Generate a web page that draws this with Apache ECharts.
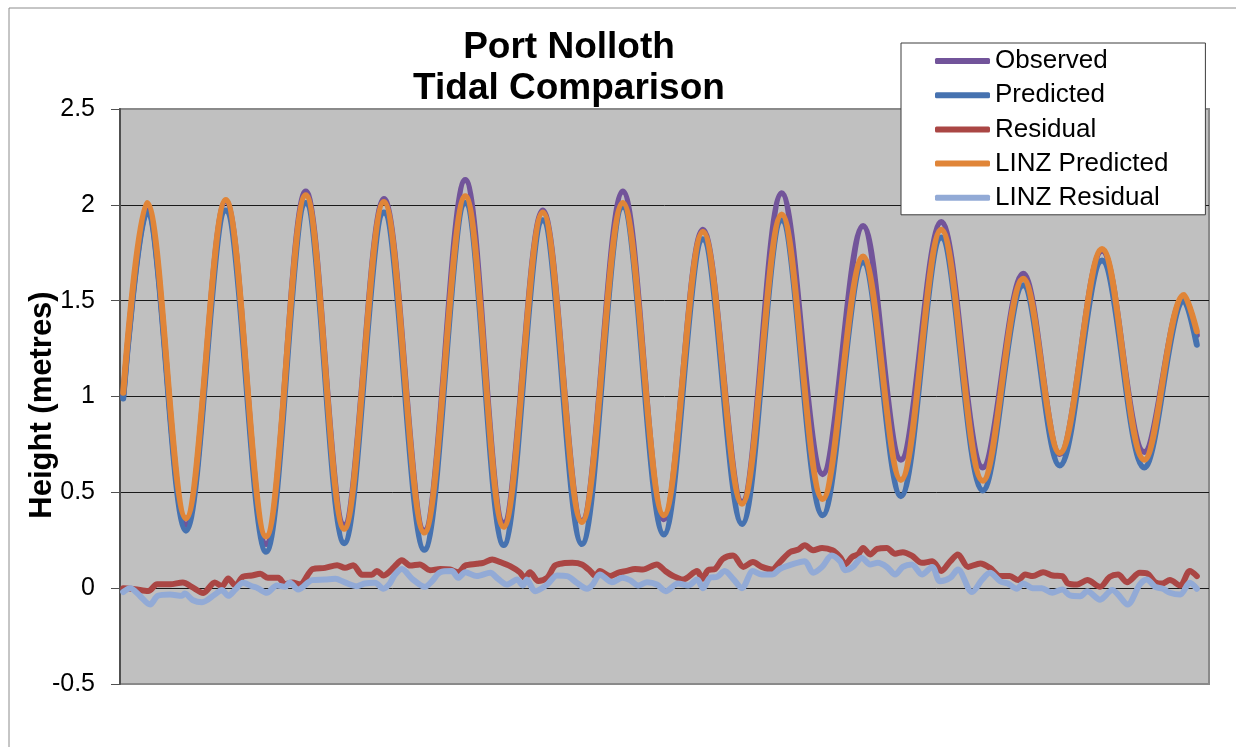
<!DOCTYPE html>
<html>
<head>
<meta charset="utf-8">
<script src="https://cdn.jsdelivr.net/npm/echarts@6/dist/echarts.min.js"></script>
<style>
html,body{margin:0;padding:0;background:#fff;}
#chart{width:1236px;height:747px;}
</style>
</head>
<body>
<div id="chart"></div>
<script>
// ---- data (time in hours from start of record, heights in metres) ----
const seriesNames = ['Observed', 'Predicted', 'Residual', 'LINZ Predicted', 'LINZ Residual'];
const yTicks = [-0.5, 0, 0.5, 1, 1.5, 2, 2.5];

// times of the start, each high / low water, and the end
const tideHours = [0.5, 4.2, 10.3, 16.5, 22.8, 29.0, 35.0, 41.2, 47.5, 53.9, 59.9, 66.0, 72.1, 78.5, 84.9,
  91.0, 97.1, 103.3, 109.7, 116.0, 121.9, 128.2, 134.7, 141.0, 146.7, 153.3, 159.9, 166.1, 168.1];
const observed = [1.00, 1.97, 0.33, 2.02, 0.23, 2.07, 0.33, 2.03, 0.30, 2.13, 0.34, 1.97, 0.35, 2.07, 0.36,
  1.87, 0.45, 2.06, 0.595, 1.89, 0.67, 1.91, 0.63, 1.64, 0.70, 1.76, 0.71, 1.52, 1.32];
const predicted = [0.99, 1.96, 0.30, 1.97, 0.19, 2.01, 0.235, 1.96, 0.20, 2.01, 0.225, 1.92, 0.23, 1.99, 0.28,
  1.82, 0.335, 1.92, 0.38, 1.70, 0.48, 1.83, 0.51, 1.58, 0.64, 1.71, 0.63, 1.50, 1.27];
const linzPredicted = [1.02, 2.01, 0.365, 2.025, 0.27, 2.05, 0.31, 2.015, 0.29, 2.045, 0.32, 1.96, 0.345, 2.01, 0.38,
  1.86, 0.44, 1.95, 0.465, 1.73, 0.565, 1.87, 0.56, 1.615, 0.705, 1.77, 0.67, 1.53, 1.34];

const residualHours = [0.5, 2.3, 4.4, 5.8, 7.8, 9.8, 11.2, 13.0, 14.8, 15.9, 16.9, 18.0, 19.2, 20.6, 21.9, 23.1, 24.7,
  25.8, 26.9, 28.1, 30.1, 32.0, 33.9, 35.1, 36.4, 37.8, 39.3, 40.1, 41.1, 42.2, 42.9, 44.0, 45.3, 46.8, 48.4, 50.0,
  51.5, 52.8, 53.9, 55.7, 56.7, 58.1, 59.3, 60.9, 62.4, 63.2, 64.0, 65.3, 66.7, 67.9, 69.2, 70.6, 72.1, 73.4, 74.2,
  74.9, 76.5, 77.7, 79.1, 80.4, 81.6, 83.8, 85.1, 86.2, 87.9, 90.1, 90.9, 91.8, 92.9, 94.1, 95.7, 97.3, 98.8, 100.2,
  101.8, 103.0, 104.6, 105.8, 106.9, 108.2, 109.6, 111.2, 112.4, 113.2, 114.3, 115.2, 116.0, 117.1, 118.2, 119.7,
  121.0, 122.2, 123.6, 125.2, 126.8, 128.2, 129.6, 130.8, 132.4, 134.3, 135.8, 137.4, 138.9, 140.2, 141.3, 142.5,
  144.1, 145.6, 147.1, 148.0, 149.4, 151.0, 153.0, 154.5, 155.8, 157.2, 159.2, 160.3, 161.6, 162.7, 163.9, 165.5,
  167.0, 168.1];
const residual = [0.00, -0.005, -0.015, 0.02, 0.02, 0.03, 0.007, -0.025, 0.03, 0.01, 0.05, 0.014, 0.06, 0.066, 0.075,
  0.054, 0.054, 0.02, 0.03, 0.02, 0.10, 0.106, 0.12, 0.106, 0.12, 0.07, 0.07, 0.09, 0.066, 0.09, 0.115, 0.146, 0.118,
  0.124, 0.094, 0.10, 0.097, 0.083, 0.118, 0.127, 0.132, 0.15, 0.137, 0.115, 0.083, 0.054, 0.083, 0.037, 0.054, 0.118,
  0.13, 0.132, 0.124, 0.09, 0.063, 0.09, 0.063, 0.08, 0.09, 0.10, 0.097, 0.124, 0.09, 0.066, 0.045, 0.089, 0.049,
  0.094, 0.10, 0.153, 0.17, 0.111, 0.136, 0.111, 0.097, 0.136, 0.188, 0.20, 0.224, 0.198, 0.21, 0.198, 0.163, 0.124,
  0.163, 0.176, 0.21, 0.176, 0.205, 0.21, 0.18, 0.188, 0.17, 0.132, 0.14, 0.09, 0.14, 0.176, 0.111, 0.129, 0.106,
  0.063, 0.063, 0.042, 0.071, 0.063, 0.083, 0.066, 0.063, 0.024, 0.019, 0.042, 0.007, 0.059, 0.071, 0.031, 0.08,
  0.077, 0.031, 0.024, 0.042, 0.014, 0.089, 0.063];

const linzResidualHours = [0.5, 1.6, 3.1, 4.7, 5.9, 7.8, 9.7, 10.1, 11.4, 12.8, 14.8, 15.9, 16.9, 18.0, 19.2, 20.6,
  21.5, 22.9, 24.5, 25.8, 26.5, 27.8, 30.0, 32.0, 33.6, 35.1, 37.0, 38.2, 39.8, 41.1, 42.1, 42.9, 44.0, 45.6, 47.6,
  48.7, 50.0, 51.8, 52.8, 53.9, 55.7, 57.8, 59.0, 60.4, 62.0, 62.9, 63.5, 64.8, 66.7, 68.2, 69.8, 71.3, 72.9, 73.8,
  74.9, 76.8, 78.4, 79.6, 80.9, 82.3, 83.8, 85.2, 87.1, 88.7, 90.1, 91.0, 92.1, 93.2, 94.4, 95.7, 97.1, 98.8, 100.2,
  101.8, 103.0, 104.9, 106.9, 108.2, 109.6, 111.1, 112.4, 113.2, 114.4, 115.8, 117.1, 118.3, 119.7, 121.0, 122.2,
  123.6, 125.2, 126.8, 128.0, 129.6, 130.8, 133.0, 134.6, 135.8, 137.4, 138.6, 140.0, 141.0, 142.5, 143.9, 145.5,
  147.1, 148.3, 149.9, 151.0, 153.0, 154.9, 155.8, 157.3, 159.2, 160.3, 161.6, 162.8, 163.9, 165.5, 167.0, 168.1];
const linzResidual = [-0.02, 0.0, -0.04, -0.085, -0.04, -0.033, -0.04, -0.028, -0.063, -0.073, -0.033, -0.01, -0.04,
  -0.007, 0.028, 0.01, 0.0, -0.024, 0.014, 0.007, 0.03, -0.007, 0.042, 0.045, 0.049, 0.03, 0.01, 0.024, 0.028, -0.003,
  0.024, 0.07, 0.10, 0.049, 0.007, 0.036, 0.083, 0.089, 0.054, 0.083, 0.063, 0.08, 0.049, 0.019, 0.045, 0.014, 0.045,
  -0.016, 0.019, 0.066, 0.063, 0.028, -0.003, 0.019, 0.071, 0.031, 0.054, 0.042, 0.014, 0.031, 0.019, -0.016, 0.024,
  0.014, 0.045, 0.0, 0.054, 0.059, 0.089, 0.049, 0.0, 0.089, 0.071, 0.071, 0.10, 0.124, 0.14, 0.08, 0.111, 0.17, 0.14,
  0.094, 0.111, 0.158, 0.124, 0.132, 0.111, 0.071, 0.111, 0.124, 0.071, 0.111, 0.036, 0.054, 0.097, -0.02, 0.045,
  0.08, 0.036, 0.024, -0.003, 0.024, 0.0, 0.0, -0.024, -0.007, -0.038, -0.042, -0.016, -0.06, -0.01, -0.033, -0.085,
  0.019, 0.045, 0.007, -0.003, -0.024, -0.033, 0.028, -0.003];

// ---- chart ----
const FONT = '"Liberation Sans", Arial, sans-serif';
const colors = ['#72549A', '#4672B0', '#AA4644', '#E08538', '#92AAD6'];
const pair = (xs, ys) => xs.map((x, i) => [x, ys[i]]);

function lineSeries(name, data, smooth) {
  return {
    name: name, type: 'line', data: data, showSymbol: false, symbol: 'none',
    smooth: smooth, animation: false,
    lineStyle: { width: 6, cap: 'round', join: 'round' }
  };
}

const chart = echarts.init(document.getElementById('chart'), null, { renderer: 'canvas' });
chart.setOption({
  color: colors,
  animation: false,
  textStyle: { fontFamily: FONT },
  title: {
    text: 'Port Nolloth\nTidal Comparison',
    left: 569, top: 27, textAlign: 'center', padding: 0,
    textStyle: { fontFamily: FONT, fontSize: 37, fontWeight: 'bold', color: '#000', lineHeight: 41 }
  },
  graphic: [{
    type: 'rect', left: 6.5, top: 5.5, z: -10, silent: true,
    shape: { width: 1300, height: 800 },
    style: { fill: null, stroke: '#8c8c8c', lineWidth: 1 }
  }],
  legend: {
    orient: 'vertical', left: 901, top: 43,
    backgroundColor: '#fff', borderColor: '#3c3c3c', borderWidth: 1,
    padding: [3, 37, 2, 34],
    itemWidth: 55, itemHeight: 6, itemGap: 4.2, icon: 'roundRect',
    textStyle: { fontFamily: FONT, fontSize: 26, color: '#000', lineHeight: 30, padding: [0, 0, 0, 0] },
    data: seriesNames
  },
  grid: {
    left: 120, right: 27, top: 109, bottom: 63,
    show: true, backgroundColor: '#C0C0C0', borderColor: '#8a8a8a', borderWidth: 2
  },
  xAxis: { type: 'value', min: 0, max: 170, show: false },
  yAxis: {
    type: 'value', min: yTicks[0], max: yTicks[yTicks.length - 1], interval: 0.5,
    name: 'Height (metres)', nameLocation: 'middle', nameGap: 78, nameMoveOverlap: false,
    nameTextStyle: { fontFamily: FONT, fontSize: 31, fontWeight: 'bold', color: '#000', padding: [0, 17, 0, 0], verticalAlign: 'middle' },
    axisLine: { show: true, lineStyle: { color: '#505050', width: 2 } },
    axisTick: { show: true, length: 9, lineStyle: { color: '#505050', width: 1 } },
    axisLabel: { fontFamily: FONT, fontSize: 25, color: '#000', margin: 25 },
    splitLine: { show: true, lineStyle: { color: ['#8a8a8a', '#1a1a1a', '#1a1a1a', '#1a1a1a', '#1a1a1a', '#1a1a1a', '#8a8a8a'], width: 1 } }
  },
  series: [
    lineSeries(seriesNames[0], pair(tideHours, observed), 0.36),
    lineSeries(seriesNames[1], pair(tideHours, predicted), 0.36),
    lineSeries(seriesNames[2], pair(residualHours, residual), 0.3),
    lineSeries(seriesNames[3], pair(tideHours, linzPredicted), 0.36),
    lineSeries(seriesNames[4], pair(linzResidualHours, linzResidual), 0.3)
  ]
});
</script>
</body>
</html>
